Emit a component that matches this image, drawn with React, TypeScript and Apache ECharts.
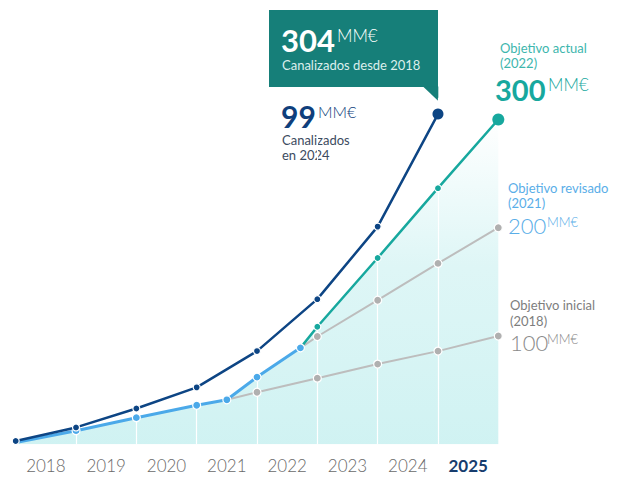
import React, { useEffect, useRef } from "react";
import * as echarts from "echarts";

// Year labels (one per interval between boundaries)
const years = ["2018", "2019", "2020", "2021", "2022", "2023", "2024", "2025"];

// Cumulative channelled amount (MM€), at year boundaries
const canalizadoX = [0, 1, 2, 3, 4, 5, 6, 7];
const canalizadoY = [3, 15.5, 33, 52.5, 86, 134, 201, 305];

// Path followed under the revised objective (light blue)
const revisadoPathX = [0, 1, 2, 3, 3.5, 4, 4.72];
const revisadoPathY = [1.5, 12.5, 24.5, 36, 41, 62, 89];

// Initial objective 100 MM€ (2018)
const inicialX = [3.5, 4, 5, 6, 7, 8];
const inicialY = [41, 48, 61, 74, 86, 100];

// Revised objective 200 MM€ (2021)
const revisadoX = [4.72, 5, 6, 7, 8];
const revisadoY = [89, 99.5, 133, 167, 200];

// Current objective 300 MM€ (2022)
const actualX = [4.72, 5, 6, 7, 8];
const actualY = [89, 108.5, 172, 236.5, 300];

const gridBoundaries = [1, 2, 3, 4, 5, 6, 7];

const C_DARK = "#0d4584";
const C_LIGHT = "#4ba9e9";
const C_TEAL = "#17a89e";
const C_GRAY = "#bdbdbd";
const C_BOX = "#167f79";
const FONT = "Lato";

const pairs = (xs: number[], ys: number[]) => xs.map((x, i) => [x, ys[i]]);

export default function App() {
  const ref = useRef<HTMLDivElement>(null);
  useEffect(() => {
    if (!ref.current) return;
    const chart = echarts.init(ref.current, undefined, { renderer: "svg" });

    const fillData = [
      ...pairs(revisadoPathX, revisadoPathY),
      ...pairs(actualX.slice(1), actualY.slice(1)),
    ];

    const smallSym = (color: string, size = 7) => ({
      symbol: "circle",
      symbolSize: size,
      itemStyle: { color, borderColor: "#ffffff", borderWidth: 1.2 },
    });

    const darkData = pairs(canalizadoX, canalizadoY).map((p, i, arr) =>
      i === arr.length - 1 ? { value: p, symbolSize: 11, itemStyle: { borderWidth: 0 } } : { value: p }
    );
    const lightData = pairs(revisadoPathX, revisadoPathY).map((p, i) =>
      i === 0 ? { value: p, symbol: "none" } : { value: p }
    );
    const inicialData = pairs(inicialX, inicialY).map((p, i) =>
      i === 0 ? { value: p, symbol: "none" } : { value: p }
    );
    const revisadoData = pairs(revisadoX, revisadoY).map((p, i) =>
      i === 0 ? { value: p, symbol: "none" } : { value: p }
    );
    const actualData = pairs(actualX, actualY).map((p, i, arr) =>
      i === 0
        ? { value: p, symbol: "none" }
        : i === arr.length - 1
        ? { value: p, symbolSize: 12, itemStyle: { borderWidth: 0 } }
        : { value: p }
    );

    const txt = (
      x: number,
      y: number,
      text: string,
      fontSize: number,
      fill: string,
      fontWeight: any = "normal"
    ) => ({
      type: "text",
      x,
      y,
      silent: true,
      style: {
        text,
        fontSize,
        fill,
        fontWeight,
        fontFamily: FONT,
        textVerticalAlign: "middle",
        textAlign: "left",
      },
    });

    chart.setOption({
      animation: false,
      grid: { left: 15.7, right: 124.7, top: 97.8, bottom: 32.8, containLabel: false },
      xAxis: [
        { type: "value", min: 0, max: 8, show: false },
        {
          type: "category",
          data: years,
          boundaryGap: true,
          position: "bottom",
          axisLine: { show: false },
          axisTick: { show: false },
          splitLine: { show: false },
          axisLabel: {
            margin: 13,
            formatter: (v: string) => (v === "2025" ? `{b|${v}}` : `{a|${v}}`),
            rich: {
              a: { fontFamily: FONT, fontSize: 17, color: "#6a6a6a", fontWeight: 300 },
              b: { fontFamily: FONT, fontSize: 17, color: "#173d6e", fontWeight: "bold" },
            },
          },
        },
      ],
      yAxis: { type: "value", min: 0, max: 320, show: false },
      series: [
        {
          name: "fill",
          type: "line",
          xAxisIndex: 0,
          data: fillData,
          z: 1,
          symbol: "none",
          lineStyle: { width: 0, opacity: 0 },
          areaStyle: {
            color: new echarts.graphic.LinearGradient(0, 0, 0, 1, [
              { offset: 0, color: "rgba(193,238,238,0)" },
              { offset: 0.45, color: "rgba(193,238,238,0.75)" },
              { offset: 1, color: "rgba(188,237,237,1)" },
            ]),
          },
          silent: true,
          markLine: {
            silent: true,
            symbol: ["none", "none"],
            label: { show: false },
            lineStyle: { color: "#ffffff", width: 1.2, type: "solid" },
            data: gridBoundaries.map((v) => ({ xAxis: v })),
          },
        },
        {
          name: "inicial",
          type: "line",
          xAxisIndex: 0,
          data: inicialData,
          z: 10,
          lineStyle: { color: C_GRAY, width: 2 },
          ...smallSym("#b0b0b0", 8),
        },
        {
          name: "revisado",
          type: "line",
          xAxisIndex: 0,
          data: revisadoData,
          z: 10,
          lineStyle: { color: C_GRAY, width: 2 },
          ...smallSym("#b0b0b0", 8),
        },
        {
          name: "actual",
          type: "line",
          xAxisIndex: 0,
          data: actualData,
          z: 11,
          lineStyle: { color: C_TEAL, width: 2.5 },
          ...smallSym(C_TEAL, 7),
        },
        {
          name: "revisadoPath",
          type: "line",
          xAxisIndex: 0,
          data: lightData,
          z: 12,
          lineStyle: { color: C_LIGHT, width: 3 },
          ...smallSym(C_LIGHT, 8),
        },
        {
          name: "canalizado",
          type: "line",
          xAxisIndex: 0,
          data: darkData,
          z: 13,
          lineStyle: { color: C_DARK, width: 2.5 },
          ...smallSym(C_DARK, 7),
        },
      ],
      graphic: [
        { type: "rect", shape: { x: 269, y: 10, width: 169, height: 77 }, style: { fill: C_BOX }, silent: true },
        { type: "polygon", shape: { points: [[423, 86.5], [438.3, 86.5], [438.3, 101]] }, style: { fill: C_BOX }, silent: true },
        txt(281, 39.5, "304", 31, "#ffffff", "bold"),
        txt(337, 35, "MM€", 17, "#ffffff", 300),
        txt(282, 65, "Canalizados desde 2018", 13, "#dcefed"),
        txt(281, 115.5, "99", 30, "#0f3f7c", "bold"),
        txt(318, 111, "MM€", 16, "#0f3f7c", 300),
        txt(282, 140, "Canalizados", 13, "#3c4b60"),
        txt(282, 155, "en 2024", 13, "#3c4b60"),

        txt(500, 48, "Objetivo actual", 13, "#3db6ad"),
        txt(500, 63, "(2022)", 13, "#3db6ad"),
        txt(495, 89, "300", 29, C_TEAL, "bold"),
        txt(548, 84, "MM€", 17, C_TEAL, 300),

        txt(508, 188, "Objetivo revisado", 13, "#5aaee8"),
        txt(508, 203, "(2021)", 13, "#5aaee8"),
        txt(508, 225, "200", 22, "#5aaee8", 300),
        txt(547, 222, "MM€", 13, "#5aaee8", 300),

        txt(510, 305, "Objetivo inicial", 13, "#7d7d7d"),
        txt(510, 321, "(2018)", 13, "#7d7d7d"),
        txt(510, 342, "100", 22, "#8a8a8a", 300),
        txt(547, 339, "MM€", 13, "#8a8a8a", 300),
      ],
    });

    return () => chart.dispose();
  }, []);

  return (
    <div
      ref={ref}
      style={{ position: "fixed", left: 0, top: 0, width: 623, height: 477, background: "#ffffff" }}
    />
  );
}
